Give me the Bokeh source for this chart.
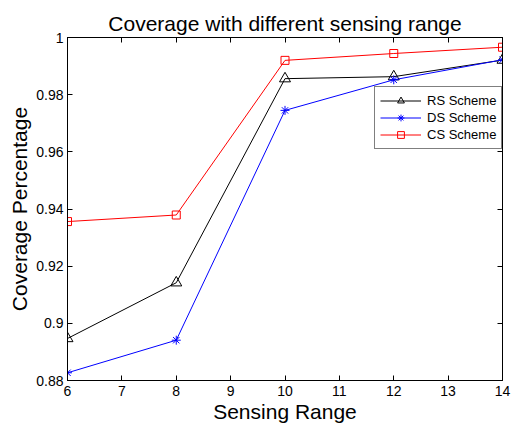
from bokeh.plotting import figure
from bokeh.models import (Range1d, FixedTicker, LinearAxis, Legend, LegendItem,
                          CustomJSTickFormatter)
from bokeh.embed import file_html
from bokeh.resources import INLINE

# ---- data ----
sensing_range = [6, 8, 10, 12, 14]
rs_scheme = [0.8947, 0.9142, 0.9856, 0.9863, 0.9921]
ds_scheme = [0.8827, 0.8941, 0.9745, 0.9852, 0.9922]
cs_scheme = [0.9356, 0.9379, 0.9920, 0.9944, 0.9966]

x_ticks = [6, 7, 8, 9, 10, 11, 12, 13, 14]
y_ticks = [0.88, 0.90, 0.92, 0.94, 0.96, 0.98, 1.00]

FONT = "Liberation Sans"

p = figure(width=511, height=426, output_backend="svg", toolbar_location=None,
           x_range=Range1d(6, 14), y_range=Range1d(0.88, 1.0),
           min_border_left=67, min_border_right=9, min_border_top=37, min_border_bottom=46,
           title="Coverage with different sensing range")

p.title.text_font = FONT
p.title.text_font_size = "21px"
p.title.text_font_style = "normal"
p.title.align = "center"
p.title.text_color = "black"
p.title.standoff = 6

p.xgrid.visible = False
p.ygrid.visible = False
p.outline_line_color = "black"
p.outline_line_width = 1
p.outline_line_alpha = 1.0
p.background_fill_color = "white"
p.border_fill_color = "white"

fmt = CustomJSTickFormatter(code="""
let s = tick.toFixed(2);
s = s.replace(/0+$/, '').replace(/\\.$/, '');
return s;
""")
blank = CustomJSTickFormatter(code="return '';")

xa = p.xaxis[0]
xa.ticker = FixedTicker(ticks=x_ticks)
ya = p.yaxis[0]
ya.ticker = FixedTicker(ticks=y_ticks)
ya.formatter = fmt

for ax in (xa, ya):
    ax.major_tick_in = 5
    ax.major_tick_out = 0
    ax.minor_tick_line_color = None
    ax.axis_line_color = "black"
    ax.major_tick_line_color = "black"
    ax.major_label_text_font = FONT
    ax.major_label_text_font_size = "14px"
    ax.major_label_text_color = "black"
    ax.axis_label_text_font = FONT
    ax.axis_label_text_font_size = "21px"
    ax.axis_label_text_font_style = "normal"
    ax.axis_label_text_color = "black"

xa.axis_label = "Sensing Range"
xa.major_label_standoff = 5
xa.axis_label_standoff = 1
ya.axis_label = "Coverage Percentage"
ya.major_label_standoff = 4
ya.axis_label_standoff = 2

# mirror axes (ticks only, no labels)
top_ax = LinearAxis(ticker=FixedTicker(ticks=x_ticks), formatter=blank,
                    major_tick_in=5, major_tick_out=0,
                    minor_tick_line_color=None, major_label_text_font_size="1px",
                    major_label_standoff=0, axis_line_color="black")
right_ax = LinearAxis(ticker=FixedTicker(ticks=y_ticks), formatter=blank,
                      major_tick_in=5, major_tick_out=0,
                      minor_tick_line_color=None, major_label_text_font_size="1px",
                      major_label_standoff=0, axis_line_color="black")
p.add_layout(top_ax, "above")
p.add_layout(right_ax, "right")

# ---- series ----
l_rs = p.line(sensing_range, rs_scheme, line_color="black", line_width=1)
s_rs = p.scatter(sensing_range, rs_scheme, marker="triangle", size=11,
                 line_color="black", fill_color=None, line_width=1)
l_ds = p.line(sensing_range, ds_scheme, line_color="blue", line_width=1)
s_ds = p.scatter(sensing_range, ds_scheme, marker="asterisk", size=9,
                 line_color="blue", line_width=1)
l_cs = p.line(sensing_range, cs_scheme, line_color="red", line_width=1)
s_cs = p.scatter(sensing_range, cs_scheme, marker="square", size=8,
                 line_color="red", fill_color=None, line_width=1)

legend = Legend(items=[
    LegendItem(label="RS Scheme", renderers=[l_rs, s_rs]),
    LegendItem(label="DS Scheme", renderers=[l_ds, s_ds]),
    LegendItem(label="CS Scheme", renderers=[l_cs, s_cs]),
], location=(307, 231))
legend.margin = 0
legend.padding = 5
legend.spacing = 0
legend.label_height = 17
legend.glyph_height = 17
legend.glyph_width = 41
legend.label_standoff = 6
legend.label_text_font = FONT
legend.label_text_font_size = "13px"
legend.label_text_color = "black"
legend.border_line_color = "black"
legend.border_line_width = 1
legend.background_fill_color = "white"
legend.background_fill_alpha = 1.0
p.add_layout(legend, "center")

open("out.html", "w").write(file_html(p, INLINE))
